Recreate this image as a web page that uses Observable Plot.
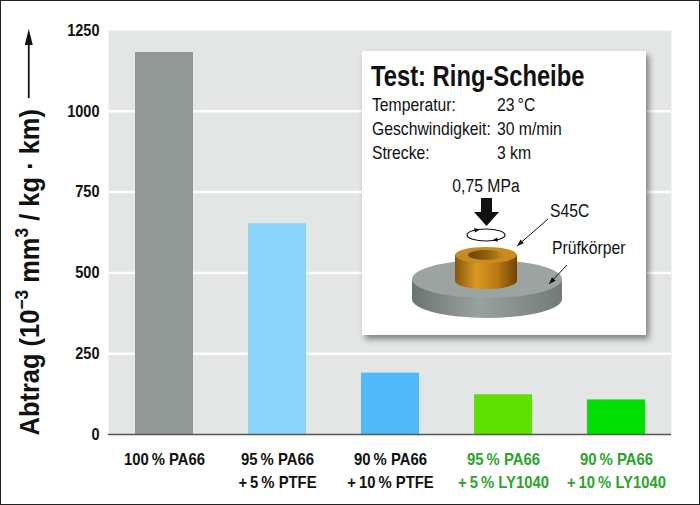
<!DOCTYPE html>
<html>
<head>
<meta charset="utf-8">
<script src="https://cdn.jsdelivr.net/npm/d3@7"></script>
<script src="https://cdn.jsdelivr.net/npm/@observablehq/plot@0.6"></script>
<style>
  html, body { margin: 0; padding: 0; background: #fff; }
  #chart { position: relative; width: 700px; height: 505px; }
  #chart svg { display: block; outline: 1px solid #222; outline-offset: -1px; }
</style>
</head>
<body>
<div id="chart"></div>
<script>
// ---- data ----
const materials = ["100% PA66", "95% PA66 + 5% PTFE", "90% PA66 + 10% PTFE", "95% PA66 + 5% LY1040", "90% PA66 + 10% LY1040"];
const labelLine1 = ["100\u2009% PA66", "95\u2009% PA66", "90\u2009% PA66", "95\u2009% PA66", "90\u2009% PA66"];
const labelLine2 = ["", "+\u20095\u2009% PTFE", "+\u200910\u2009% PTFE", "+\u20095\u2009% LY1040", "+\u200910\u2009% LY1040"];
const abtrag = [1182, 652, 190, 123, 107];
const barColors = ["#939997", "#87d5f8", "#4fbcf9", "#5ee000", "#00df00"];
const labelColors = ["#111111", "#111111", "#111111", "#2aa52a", "#2aa52a"];
const yTicks = [0, 250, 500, 750, 1000, 1250];
const yLabel = "Abtrag (10-3 mm3 / kg · km)";
const testTitle = "Test: Ring-Scheibe";
const paramNames = ["Temperatur:", "Geschwindigkeit:", "Strecke:"];
const paramValues = ["23\u2009°C", "30 m/min", "3 km"];
const pressure = "0,75 MPa";
const partNames = ["S45C", "Prüfkörper"];

const FONT = '"Liberation Sans", Arial, Helvetica, sans-serif';

const rows = materials.map((m, i) => ({
  m, v: abtrag[i], c: barColors[i], tc: labelColors[i],
  l: labelLine1[i] + (labelLine2[i] ? "\n" + labelLine2[i] : "")
}));

const chart = Plot.plot({
  width: 700, height: 505,
  marginLeft: 108, marginRight: 29, marginTop: 30, marginBottom: 71,
  style: { fontFamily: FONT, background: "#ffffff", overflow: "visible" },
  x: { domain: materials, paddingInner: 0.49, paddingOuter: 0.22, axis: null },
  y: { domain: [0, 1250], label: null, axis: null },
  color: { type: "identity" },
  marks: [
    Plot.frame({ fill: "#e3e6e5", stroke: null }),
    Plot.gridY(yTicks.filter(t => t > 0 && t < 1250), { stroke: "#ffffff", strokeOpacity: 1, strokeWidth: 2.5 }),
    Plot.barY(rows, { x: "m", y: "v", fill: "c" }),
    Plot.ruleY([0], { stroke: "#555555", strokeWidth: 1.5 }),
    Plot.axisY({ ticks: yTicks, tickFormat: d3.format("d"), tickSize: 0, tickPadding: 9, fontSize: 16.5, fontWeight: "bold", label: null, fill: "#111111" }),
    Plot.text(rows, { x: "m", text: "l", frameAnchor: "bottom", lineAnchor: "top", dy: 15, fontSize: 16.5, fontWeight: "bold", fill: "tc", lineHeight: 1.35 }),
    Plot.text([yLabel], { frameAnchor: "bottom-left", dx: -70, dy: 1, textAnchor: "start", rotate: -90, fontSize: 28, fontWeight: "bold", fill: "#111111" })
  ]
});
document.getElementById("chart").appendChild(chart);

const svg = d3.select(chart);

function squeeze(node, s) {
  const t = node.getAttribute("transform");
  if (t) node.setAttribute("transform", t + ` scale(${s},1)`);
  else {
    const x = +(node.getAttribute("x") || 0), y = +(node.getAttribute("y") || 0);
    node.setAttribute("x", 0); node.setAttribute("y", 0);
    node.setAttribute("transform", `translate(${x},${y}) scale(${s},1)`);
  }
}

const allTexts = svg.selectAll("text").nodes();
// y tick labels
allTexts.filter(n => yTicks.map(String).includes(n.textContent.trim())).forEach(n => squeeze(n, 0.88));
// x labels
allTexts.filter(n => n.textContent.includes("PA66")).forEach(n => squeeze(n, 0.9));

// ---- y label with superscripts ----
const ylNode = allTexts.find(n => n.textContent === yLabel);
const yl = d3.select(ylNode);
yl.text(null);
yl.append("tspan").text("Abtrag (10");
yl.append("tspan").attr("font-size", 19).attr("dy", -11).text("\u22123");
yl.append("tspan").attr("dy", 11).text(" mm");
yl.append("tspan").attr("font-size", 19).attr("dy", -11).text("3");
yl.append("tspan").attr("dy", 11).text(" / kg · km)");
squeeze(ylNode, 0.91);

// arrow after the label
const sr = chart.getBoundingClientRect();
const lr = ylNode.getBoundingClientRect();
const ax = (lr.left + lr.right) / 2 - sr.left + 1;
const aTop = lr.top - sr.top;
svg.append("line").attr("x1", ax).attr("x2", ax).attr("y1", Math.min(aTop - 7, 98)).attr("y2", 42)
  .attr("stroke", "#111").attr("stroke-width", 1.8);
svg.append("path").attr("d", `M${ax - 4},${45} L${ax},${29} L${ax + 4},${45} Z`).attr("fill", "#111");

// ---- inset box ----
const defs = svg.append("defs");
const f = defs.append("filter").attr("id", "sh").attr("x", "-10%").attr("y", "-10%").attr("width", "130%").attr("height", "130%");
f.append("feDropShadow").attr("dx", 3).attr("dy", 4).attr("stdDeviation", 3).attr("flood-color", "#000").attr("flood-opacity", 0.45);

function lin(id, stops) {
  const gr = defs.append("linearGradient").attr("id", id).attr("x1", 0).attr("x2", 1).attr("y1", 0).attr("y2", 0);
  stops.forEach(([o, c]) => gr.append("stop").attr("offset", o).attr("stop-color", c));
}
lin("discSide", [[0, "#6c7472"], [0.45, "#9aa2a0"], [1, "#727a78"]]);
lin("ringSide", [[0, "#8a5608"], [0.35, "#d99a22"], [0.7, "#b67612"], [1, "#6e4304"]]);
lin("ringHole", [[0, "#6a4004"], [0.6, "#9a6410"], [1, "#c58a1e"]]);

const ins = svg.append("g").attr("font-family", FONT).attr("fill", "#111").attr("text-anchor", "start");
ins.append("rect").attr("x", 362).attr("y", 51).attr("width", 284).attr("height", 284)
  .attr("fill", "#fff").attr("filter", "url(#sh)");

function label(x, y, txt, size, opts = {}) {
  const t = ins.append("text")
    .attr("transform", `translate(${x},${y}) scale(${opts.s || 0.85},1)`)
    .attr("font-size", size).attr("text-anchor", opts.anchor || "start").text(txt);
  if (opts.bold) t.attr("font-weight", "bold");
  return t;
}
label(371, 86, testTitle, 29, { bold: true, s: 0.82 });
paramNames.forEach((n, i) => {
  label(372, 111 + i * 24, n, 18.5);
  label(497, 111 + i * 24, paramValues[i], 18.5);
});
label(486, 192, pressure, 18.5, { anchor: "middle" });
label(550, 217, partNames[0], 18.5);
label(552, 254, partNames[1], 18.5);

// press arrow
ins.append("path").attr("d", "M481,198 L492,198 L492,212 L499,212 L486.5,226 L474,212 L481,212 Z").attr("fill", "#111");
// rotation ellipse
ins.append("ellipse").attr("cx", 486).attr("cy", 235).attr("rx", 19).attr("ry", 6)
  .attr("fill", "none").attr("stroke", "#111").attr("stroke-width", 1.2);
ins.append("path").attr("d", "M474,228 L480,229.5 L475,232.5 Z").attr("fill", "#111");
ins.append("path").attr("d", "M498,241.5 L492,240.5 L497,237.5 Z").attr("fill", "#111");

// disc
const dcx = 487, dcy = 279, drx = 75, dry = 19, dth = 20;
ins.append("path").attr("d",
  `M${dcx - drx},${dcy} L${dcx - drx},${dcy + dth} A${drx},${dry} 0 0 0 ${dcx + drx},${dcy + dth} L${dcx + drx},${dcy} Z`)
  .attr("fill", "url(#discSide)");
ins.append("ellipse").attr("cx", dcx).attr("cy", dcy).attr("rx", drx).attr("ry", dry).attr("fill", "#9ca4a2");
// ring
const rcx = 486, rcy = 255, rrx = 31, rry = 8, rth = 26;
ins.append("path").attr("d",
  `M${rcx - rrx},${rcy} L${rcx - rrx},${rcy + rth} A${rrx},${rry} 0 0 0 ${rcx + rrx},${rcy + rth} L${rcx + rrx},${rcy} Z`)
  .attr("fill", "url(#ringSide)");
ins.append("ellipse").attr("cx", rcx).attr("cy", rcy).attr("rx", rrx).attr("ry", rry).attr("fill", "#c98b1d");
ins.append("ellipse").attr("cx", rcx).attr("cy", rcy).attr("rx", 18).attr("ry", 5).attr("fill", "url(#ringHole)");

// leader lines
function leader(x1, y1, x2, y2) {
  ins.append("line").attr("x1", x1).attr("y1", y1).attr("x2", x2).attr("y2", y2).attr("stroke", "#111").attr("stroke-width", 1);
  const a = Math.atan2(y2 - y1, x2 - x1), L = 7, W = 2.6;
  const bx = x2 - L * Math.cos(a), by = y2 - L * Math.sin(a);
  const px = -Math.sin(a) * W, py = Math.cos(a) * W;
  ins.append("path").attr("d", `M${x2},${y2} L${bx + px},${by + py} L${bx - px},${by - py} Z`).attr("fill", "#111");
}
leader(548, 219, 517, 246);
leader(567, 265, 549, 284);
</script>
</body>
</html>
